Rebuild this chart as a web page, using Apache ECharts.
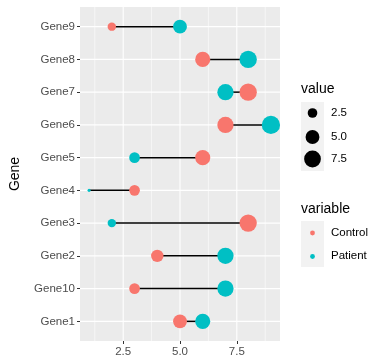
<!DOCTYPE html>
<html>
<head>
<meta charset="utf-8">
<script src="https://cdn.jsdelivr.net/npm/echarts@6/dist/echarts.min.js"></script>
<style>html,body{margin:0;padding:0;background:#fff}#c{width:384px;height:361px}</style>
</head>
<body>
<div id="c"></div>
<script>
const categories = ['Gene1','Gene10','Gene2','Gene3','Gene4','Gene5','Gene6','Gene7','Gene8','Gene9'];
const controlValues = [5,3,4,8,3,6,7,8,6,2];
const patientValues = [6,7,7,2,1,3,9,7,8,5];
const xTicks = [2.5,5,7.5];
const xMinorTicks = [1.25,3.75,6.25,8.75];
const sizeBreaks = [2.5,5,7.5];

const FONT = '"Liberation Sans", Arial, sans-serif';
const vMin = 1, vMax = 9;
function dia(v){ return 3.05*(1+5*Math.sqrt(Math.max(0,(v-vMin)/(vMax-vMin)))); }

const yIdx = categories.map((_,i)=>i+1);
const gridData = [];
xTicks.forEach(v=>gridData.push([0,v,1.1]));
xMinorTicks.forEach(v=>gridData.push([0,v,0.55]));
yIdx.forEach(v=>gridData.push([1,v,1.1]));

const segData = categories.map((_,i)=>[i+1, controlValues[i], patientValues[i]]);

const chart = echarts.init(document.getElementById('c'));
const graphic = [];
graphic.push({type:'text', left:301, top:82, style:{text:'value', font:'14px '+FONT, fill:'#000'}});
graphic.push({type:'rect', shape:{x:301,y:102,width:23,height:69}, style:{fill:'#F2F2F2'}});
const sizeY=[113,137,159];
sizeBreaks.forEach((b,i)=>{
  graphic.push({type:'circle', shape:{cx:312.5, cy:sizeY[i], r:dia(b)/2}, style:{fill:'#000'}});
  graphic.push({type:'text', left:331, top:sizeY[i]-6.5, style:{text:b.toFixed(1), font:'11.5px '+FONT, fill:'#000'}});
});
graphic.push({type:'text', left:301, top:202, style:{text:'variable', font:'14px '+FONT, fill:'#000'}});
graphic.push({type:'rect', shape:{x:301,y:221,width:23,height:46}, style:{fill:'#F2F2F2'}});
[['Control','#F8766D',233],['Patient','#00BFC4',256.5]].forEach(([n,c,y])=>{
  graphic.push({type:'circle', shape:{cx:312.5, cy:y, r:2.4}, style:{fill:c}});
  graphic.push({type:'text', left:331, top:y-6.5, style:{text:n, font:'11.5px '+FONT, fill:'#000'}});
});

chart.setOption({
  animation:false,
  backgroundColor:'#fff',
  grid:{left:73, right:104, top:7, bottom:20, show:true, backgroundColor:'#EBEBEB', borderWidth:0, containLabel:false},
  xAxis:{type:'value', min:0.6, max:9.4,
    axisLine:{show:false},
    axisTick:{show:true, length:3, customValues:xTicks, lineStyle:{color:'#333', width:1}},
    axisLabel:{customValues:xTicks, formatter:v=>v.toFixed(1), color:'#4D4D4D', fontFamily:FONT, fontSize:11.5, margin:5},
    splitLine:{show:false}, minorSplitLine:{show:false}},
  yAxis:{type:'value', min:0.4, max:10.6, name:'Gene', nameLocation:'middle', nameGap:58, nameRotate:90,
    nameTextStyle:{fontFamily:FONT, fontSize:14, color:'#000'},
    axisLine:{show:false},
    axisTick:{show:true, length:3, customValues:yIdx, lineStyle:{color:'#333', width:1}},
    axisLabel:{customValues:yIdx, formatter:v=>categories[Math.round(v)-1], color:'#4D4D4D', fontFamily:FONT, fontSize:11.5, margin:5},
    splitLine:{show:false}},
  graphic:graphic,
  series:[
    {type:'custom', z:1, silent:true, data:gridData, clip:true,
      renderItem:(params,api)=>{
        const t=api.value(0), v=api.value(1), w=api.value(2);
        let p1,p2;
        if(t===0){p1=api.coord([v,0.4]);p2=api.coord([v,10.6]);}
        else {p1=api.coord([0.6,v]);p2=api.coord([9.4,v]);}
        return {type:'line', shape:{x1:p1[0],y1:p1[1],x2:p2[0],y2:p2[1]}, style:{stroke:'#fff', lineWidth:w}};
      }},
    {type:'custom', z:2, silent:true, data:segData,
      renderItem:(params,api)=>{
        const y=api.value(0);
        const p1=api.coord([api.value(1),y]), p2=api.coord([api.value(2),y]);
        return {type:'line', shape:{x1:p1[0],y1:p1[1],x2:p2[0],y2:p2[1]}, style:{stroke:'#000', lineWidth:1.5}};
      }},
    {type:'scatter', name:'Control', z:3, data:controlValues.map((v,i)=>[v,i+1]),
      symbolSize:d=>dia(d[0]), itemStyle:{color:'#F8766D', opacity:1}},
    {type:'scatter', name:'Patient', z:3, data:patientValues.map((v,i)=>[v,i+1]),
      symbolSize:d=>dia(d[0]), itemStyle:{color:'#00BFC4', opacity:1}}
  ]
});
</script>
</body>
</html>
